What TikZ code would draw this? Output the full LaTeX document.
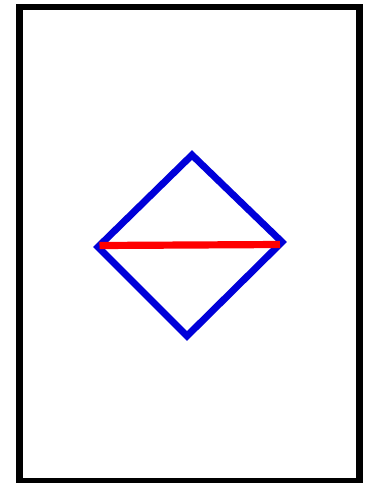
\documentclass[tikz,border=0pt]{standalone}
\usepackage{xcolor}
\usepackage{tikz}
\usetikzlibrary{calc}

\begin{document}
\begin{tikzpicture}[x=0.75pt, y=-0.75pt]
        % Page size
        \useasboundingbox (0,0) rectangle (378,483);

        % Outer frame
        \draw[line width=4.8pt, black] (19.5,7) rectangle (359.5,481);

        % Corners of the square
        \coordinate (T) at (192,155);
        \coordinate (R) at (282,242);
        \coordinate (B) at (187,336);
        \coordinate (L) at (98,247);

        % Draw the square
        \draw[line width=5.2pt, blue!85!black, line join=miter] (T) -- (R) -- (B) -- (L) -- cycle;

        % Diagonal
        \coordinate (D1) at (99.5,245.5);
        \coordinate (D2) at (280,244.5);
        \draw[line width=5.4pt, red] (D1) -- (D2);
    \end{tikzpicture}
\end{document}
